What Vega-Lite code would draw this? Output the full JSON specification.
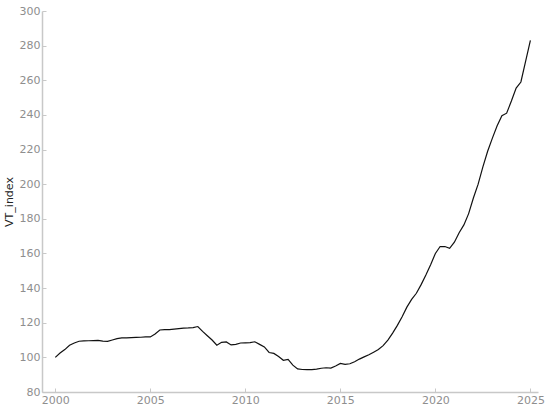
{
  "$schema": "https://vega.github.io/schema/vega-lite/v6.json",
  "width": 496,
  "height": 381,
  "autosize": {"type": "none"},
  "padding": {"left": 42, "top": 11, "right": 12, "bottom": 19},
  "background": "white",
  "config": {
    "view": {"stroke": null},
    "axis": {
      "grid": false,
      "domainColor": "#c8c8c8",
      "domainWidth": 1.5,
      "tickColor": "#c8c8c8",
      "tickSize": -4,
      "labelColor": "#8e8e8e",
      "labelFont": "DejaVu Sans",
      "labelFontSize": 11,
      "titleFont": "DejaVu Sans",
      "titleFontSize": 11,
      "titleFontWeight": "normal",
      "titleColor": "#222222"
    }
  },
  "data": {
    "values": [
      {"year": 2000.00, "VT_index": 100},
      {"year": 2000.25, "VT_index": 102.5},
      {"year": 2000.50, "VT_index": 104.5},
      {"year": 2000.75, "VT_index": 107},
      {"year": 2001.00, "VT_index": 108.3},
      {"year": 2001.25, "VT_index": 109.3},
      {"year": 2001.50, "VT_index": 109.5},
      {"year": 2001.75, "VT_index": 109.6},
      {"year": 2002.00, "VT_index": 109.7},
      {"year": 2002.25, "VT_index": 109.8},
      {"year": 2002.50, "VT_index": 109.4},
      {"year": 2002.75, "VT_index": 109.2},
      {"year": 2003.00, "VT_index": 110},
      {"year": 2003.25, "VT_index": 110.8},
      {"year": 2003.50, "VT_index": 111.2},
      {"year": 2003.75, "VT_index": 111.3},
      {"year": 2004.00, "VT_index": 111.4},
      {"year": 2004.25, "VT_index": 111.5},
      {"year": 2004.50, "VT_index": 111.6},
      {"year": 2004.75, "VT_index": 111.8},
      {"year": 2005.00, "VT_index": 111.8},
      {"year": 2005.25, "VT_index": 113.5},
      {"year": 2005.50, "VT_index": 115.8},
      {"year": 2005.75, "VT_index": 116},
      {"year": 2006.00, "VT_index": 116},
      {"year": 2006.25, "VT_index": 116.3},
      {"year": 2006.50, "VT_index": 116.6},
      {"year": 2006.75, "VT_index": 116.9},
      {"year": 2007.00, "VT_index": 117},
      {"year": 2007.25, "VT_index": 117.2},
      {"year": 2007.50, "VT_index": 117.8},
      {"year": 2007.75, "VT_index": 115},
      {"year": 2008.00, "VT_index": 112.5},
      {"year": 2008.25, "VT_index": 110},
      {"year": 2008.50, "VT_index": 107},
      {"year": 2008.75, "VT_index": 108.7},
      {"year": 2009.00, "VT_index": 108.9},
      {"year": 2009.25, "VT_index": 107.2},
      {"year": 2009.50, "VT_index": 107.5},
      {"year": 2009.75, "VT_index": 108.3},
      {"year": 2010.00, "VT_index": 108.4},
      {"year": 2010.25, "VT_index": 108.5},
      {"year": 2010.50, "VT_index": 109},
      {"year": 2010.75, "VT_index": 107.5},
      {"year": 2011.00, "VT_index": 106},
      {"year": 2011.25, "VT_index": 102.8},
      {"year": 2011.50, "VT_index": 102.3},
      {"year": 2011.75, "VT_index": 100.5},
      {"year": 2012.00, "VT_index": 98.3},
      {"year": 2012.25, "VT_index": 98.8},
      {"year": 2012.50, "VT_index": 95.5},
      {"year": 2012.75, "VT_index": 93.3},
      {"year": 2013.00, "VT_index": 93},
      {"year": 2013.25, "VT_index": 92.9},
      {"year": 2013.50, "VT_index": 92.9},
      {"year": 2013.75, "VT_index": 93.2},
      {"year": 2014.00, "VT_index": 93.7},
      {"year": 2014.25, "VT_index": 94},
      {"year": 2014.50, "VT_index": 93.8},
      {"year": 2014.75, "VT_index": 95},
      {"year": 2015.00, "VT_index": 96.5},
      {"year": 2015.25, "VT_index": 96},
      {"year": 2015.50, "VT_index": 96.3},
      {"year": 2015.75, "VT_index": 97.5},
      {"year": 2016.00, "VT_index": 99},
      {"year": 2016.25, "VT_index": 100.3},
      {"year": 2016.50, "VT_index": 101.5},
      {"year": 2016.75, "VT_index": 103},
      {"year": 2017.00, "VT_index": 104.5},
      {"year": 2017.25, "VT_index": 106.8},
      {"year": 2017.50, "VT_index": 110},
      {"year": 2017.75, "VT_index": 114},
      {"year": 2018.00, "VT_index": 118.5},
      {"year": 2018.25, "VT_index": 123.5},
      {"year": 2018.50, "VT_index": 129},
      {"year": 2018.75, "VT_index": 133.5},
      {"year": 2019.00, "VT_index": 137},
      {"year": 2019.25, "VT_index": 142},
      {"year": 2019.50, "VT_index": 147.5},
      {"year": 2019.75, "VT_index": 153.5},
      {"year": 2020.00, "VT_index": 160},
      {"year": 2020.25, "VT_index": 164},
      {"year": 2020.50, "VT_index": 164},
      {"year": 2020.75, "VT_index": 163},
      {"year": 2021.00, "VT_index": 166.5},
      {"year": 2021.25, "VT_index": 172},
      {"year": 2021.50, "VT_index": 176.5},
      {"year": 2021.75, "VT_index": 183},
      {"year": 2022.00, "VT_index": 192},
      {"year": 2022.25, "VT_index": 200},
      {"year": 2022.50, "VT_index": 210},
      {"year": 2022.75, "VT_index": 219},
      {"year": 2023.00, "VT_index": 226.6},
      {"year": 2023.25, "VT_index": 233.7},
      {"year": 2023.50, "VT_index": 239.5},
      {"year": 2023.75, "VT_index": 241},
      {"year": 2024.00, "VT_index": 248},
      {"year": 2024.25, "VT_index": 255.5},
      {"year": 2024.50, "VT_index": 259},
      {"year": 2024.75, "VT_index": 271},
      {"year": 2025.00, "VT_index": 283}
    ]
  },
  "mark": {"type": "line", "color": "#111111", "strokeWidth": 1.2},
  "encoding": {
    "x": {
      "field": "year",
      "type": "quantitative",
      "scale": {"domain": [1999.3, 2025.4], "nice": false, "zero": false},
      "axis": {
        "title": null,
        "values": [2000, 2005, 2010, 2015, 2020, 2025],
        "format": "d",
        "labelPadding": 6
      }
    },
    "y": {
      "field": "VT_index",
      "type": "quantitative",
      "scale": {"domain": [80, 300], "nice": false, "zero": false},
      "axis": {
        "title": "VT_index",
        "values": [80, 100, 120, 140, 160, 180, 200, 220, 240, 260, 280, 300],
        "labelPadding": 6,
        "titlePadding": 5
      }
    }
  }
}
